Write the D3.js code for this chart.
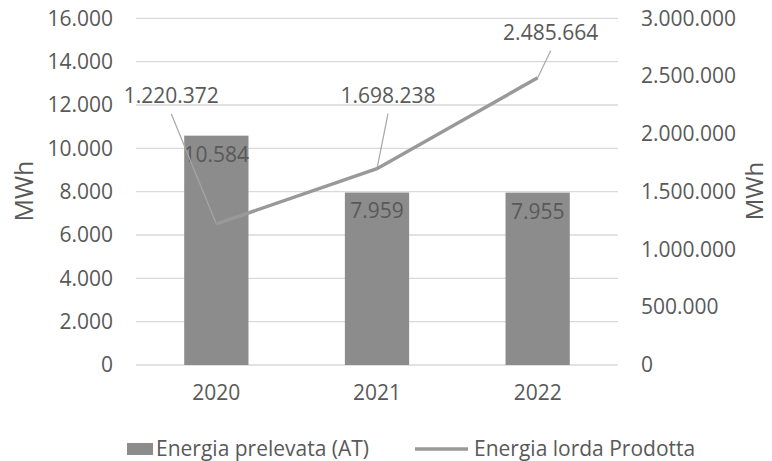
<!DOCTYPE html>
<html><head><meta charset="utf-8">
<script src="https://cdn.jsdelivr.net/npm/d3@7"></script>
<style>body{margin:0;background:#fff}svg{display:block}text{font-family:"Open Sans",sans-serif;fill:#595959}</style>
</head><body><svg id="c" width="772" height="461"></svg>
<script>
const categories = ["2020","2021","2022"];
const energiaPrelevata = [10584, 7959, 7955];
const energiaLorda = [1220372, 1698238, 2485664];
const leftTicks = [0,2000,4000,6000,8000,10000,12000,14000,16000];
const rightTicks = [0,500000,1000000,1500000,2000000,2500000,3000000];
const seriesNames = ["Energia prelevata (AT)","Energia lorda Prodotta"];
// label offsets for line data labels (dx, dy of label centre relative to point)
const lineLabelOffsets = [[-45,-128],[11,-73],[13,-45]];

const fmt = v => d3.format(",")(v).replace(/,/g,".");
const svg = d3.select("#c");
const L = 136, R = 618, T = 18.3, B = 365;
const x = d3.scaleBand().domain(categories).range([L,R]).padding(0);
const yL = d3.scaleLinear().domain([0,16000]).range([B,T]);
const yR = d3.scaleLinear().domain([0,3000000]).range([B,T]);
const FS = 21;

// grid
svg.append("g").selectAll("line").data(leftTicks).join("line")
  .attr("x1",L).attr("x2",R).attr("y1",d=>yL(d)).attr("y2",d=>yL(d))
  .attr("stroke","#d9d9d9").attr("stroke-width",1.3);

// left axis
const gl = svg.append("g").attr("transform",`translate(${L},0)`)
  .call(d3.axisLeft(yL).tickValues(leftTicks).tickFormat(fmt).tickSize(0).tickPadding(23));
gl.select(".domain").remove();
gl.selectAll("text").style("font-size",FS+"px").attr("fill","#595959").style("font-family","Open Sans");

// right axis
const gr = svg.append("g").attr("transform",`translate(${R},0)`)
  .call(d3.axisRight(yR).tickValues(rightTicks).tickFormat(fmt).tickSize(0).tickPadding(23));
gr.select(".domain").remove();
gr.selectAll("text").style("font-size",FS+"px").attr("fill","#595959").style("font-family","Open Sans");

// x axis
const gx = svg.append("g").attr("transform",`translate(0,${B})`)
  .call(d3.axisBottom(x).tickSize(0).tickPadding(20));
gx.select(".domain").remove();
gx.selectAll("text").style("font-size",FS+"px").attr("fill","#595959").style("font-family","Open Sans");

// bars
const bw = x.bandwidth()*0.4;
const cx = d => x(d)+x.bandwidth()/2;
svg.append("g").selectAll("rect").data(categories).join("rect")
  .attr("x",d=>cx(d)-bw/2).attr("width",bw)
  .attr("y",(d,i)=>yL(energiaPrelevata[i])).attr("height",(d,i)=>B-yL(energiaPrelevata[i]))
  .attr("fill","#8c8c8c");
svg.append("g").selectAll("text").data(categories).join("text")
  .attr("x",d=>cx(d)).attr("y",(d,i)=>yL(energiaPrelevata[i])+6)
  .attr("dy","0.95em").attr("text-anchor","middle").style("font-size",FS+"px")
  .text((d,i)=>fmt(energiaPrelevata[i]));

// leader lines
svg.append("g").selectAll("line").data(categories).join("line")
  .attr("x1",d=>cx(d)).attr("y1",(d,i)=>yR(energiaLorda[i]))
  .attr("x2",(d,i)=>cx(d)+lineLabelOffsets[i][0]).attr("y2",(d,i)=>yR(energiaLorda[i])+lineLabelOffsets[i][1]+18)
  .attr("stroke","#a6a6a6").attr("stroke-width",1.2);

// line
svg.append("path").datum(categories)
  .attr("d",d3.line().x(d=>cx(d)).y((d,i)=>yR(energiaLorda[i])))
  .attr("fill","none").attr("stroke","#999999").attr("stroke-width",3.5);

svg.append("g").selectAll("text").data(categories).join("text")
  .attr("x",(d,i)=>cx(d)+lineLabelOffsets[i][0]).attr("y",(d,i)=>yR(energiaLorda[i])+lineLabelOffsets[i][1])
  .attr("dy","0.35em").attr("text-anchor","middle").style("font-size",FS+"px")
  .text((d,i)=>fmt(energiaLorda[i]));

// axis titles
svg.append("text").attr("transform","translate(24,191) rotate(-90)").attr("text-anchor","middle")
  .attr("dy","0.35em").style("font-size","25px").text("MWh");
svg.append("text").attr("transform","translate(755,191) rotate(-90)").attr("text-anchor","middle")
  .attr("dy","0.35em").style("font-size","24px").text("MWh");

// legend
const lg = svg.append("g");
lg.append("rect").attr("x",127).attr("y",443).attr("width",26).attr("height",12).attr("fill","#8c8c8c");
lg.append("text").attr("x",156).attr("y",449).attr("dy","0.35em").style("font-size",FS+"px").text(seriesNames[0]);
lg.append("line").attr("x1",415).attr("x2",468).attr("y1",449).attr("y2",449).attr("stroke","#999999").attr("stroke-width",3.5);
lg.append("text").attr("x",474).attr("y",449).attr("dy","0.35em").style("font-size",FS+"px").text(seriesNames[1]);
</script></body></html>
